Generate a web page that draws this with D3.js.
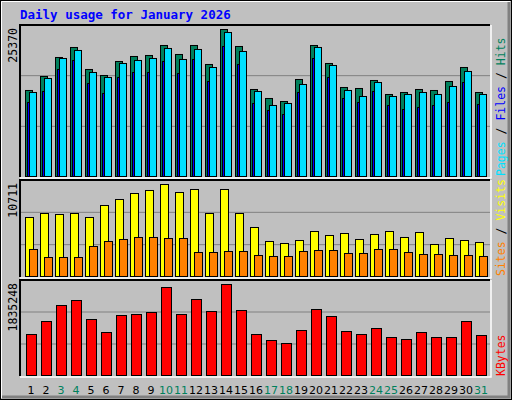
<!DOCTYPE html>
<html><head><meta charset="utf-8">
<script src="https://cdn.jsdelivr.net/npm/d3@7"></script>
<style>body{margin:0;background:#fff}svg{display:block}</style>
</head><body><svg id="c" width="512" height="400"></svg>
<script>
const days = d3.range(1,32).map(String);
const weekends = ["3","4","10","11","17","18","24","25","31"];
const hits = [14844,17260,20539,22265,18468,17433,19849,20712,20885,22611,21057,22611,19331,25370,22438,15016,13463,12945,16742,22611,19504,15361,15189,16570,14153,14498,15016,14844,16397,18813,14498];
const pages = [14498,16915,20367,21748,17950,17087,19504,20022,20367,22093,20194,21920,18813,24854,21575,14671,12255,12600,15879,22265,19159,14844,13808,16224,13808,14153,14498,14153,15534,18123,14153];
const files = [12772,14671,18468,20022,16052,14326,17087,17950,17950,19849,17778,20194,16397,22438,19331,12600,11392,10701,14498,20367,17087,13463,12772,14671,12255,11564,11909,12255,12772,16224,12427];
const visits = [6869,7335,7218,7335,6869,8266,8965,9663,10013,10711,9780,10129,7335,10129,7335,5705,4075,3842,4191,5239,4773,5006,4308,4890,5239,4541,5123,3726,4424,4191,3959];
const sites = [3144,2212,2212,2212,3493,4075,4308,4541,4541,4424,4424,2794,2794,2911,2911,2445,2329,2329,2911,3027,3027,2678,2678,3144,3144,2794,2561,2561,2445,2445,2329];
const kbytes = [826868,1089045,1411725,1512563,1129380,867203,1210050,1230218,1270553,1774740,1230218,1532730,1290720,1835248,1310888,826868,705863,645360,907538,1331055,1189883,887370,826868,947873,766365,726030,867203,766365,766365,1089045,806700];
const title = "Daily usage for January 2026";

const svg = d3.select("#c");
const mono = "DejaVu Sans Mono, monospace";
// background and bevel
svg.append("rect").attr("x",0.5).attr("y",0.5).attr("width",511).attr("height",399).attr("fill","#c0c0c0").attr("stroke","#000");
svg.append("path").attr("d","M1.5,398V1.5H510").attr("stroke","#fff").attr("fill","none");
svg.append("path").attr("d","M2,397H509V2").attr("stroke","#808080").attr("stroke-width",3).attr("fill","none");
svg.append("text").attr("x",20).attr("y",19).text(title).attr("font-family",mono).attr("font-weight","bold").attr("font-size",12.5).attr("fill","#0000ff");

const x = d3.scaleBand().domain(days).range([20,485]).paddingInner(0).paddingOuter(0);
const L=20, R=490;
function panel(top, bottom, max){
  svg.append("rect").attr("x",L).attr("y",top).attr("width",R-L).attr("height",bottom-top).attr("fill","#c0c0c0");
  const y = d3.scaleLinear().domain([0,max]).range([bottom-1, top+4]);
  const h = bottom-top;
  [1,2].forEach(k=>svg.append("line").attr("x1",L).attr("x2",R).attr("y1",top+h*k/3).attr("y2",top+h*k/3).attr("stroke","#808080"));
  svg.append("path").attr("d",`M${L},${bottom}V${top}H${R}`).attr("stroke","#000").attr("stroke-width",2).attr("fill","none");
  svg.append("path").attr("d",`M${L},${bottom+1}H${R+1}V${top}`).attr("stroke","#fff").attr("stroke-width",1.5).attr("fill","none");
  svg.append("text").attr("transform",`translate(${L-3},${top+3}) rotate(-90)`).attr("text-anchor","end")
    .text(d3.format("d")(max)).attr("font-family",mono).attr("font-size",11.5).attr("fill","#000");
  return y;
}
function bars(data, y, dx, w, color){
  svg.append("g").selectAll("rect").data(data).join("rect")
    .attr("x",(d,i)=>x(days[i])+dx+0.5).attr("width",w)
    .attr("y",d=>y(d)+0.5).attr("height",d=>y(0)-y(d))
    .attr("fill",color).attr("stroke","#000").attr("stroke-width",1);
}
const y1 = panel(25,177,25370);
bars(hits,y1,5,7,"#00805c");
bars(files,y1,7,7,"#0000ff");
bars(pages,y1,9,7,"#00e0ff");
const y2 = panel(180,277,10711);
bars(visits,y2,5,8,"#ffff00");
bars(sites,y2,9,8,"#ff8000");
const y3 = panel(280,376,1835248);
bars(kbytes,y3,6,10,"#ff0000");

function legend(parts, yBottom){
  const t = svg.append("text").attr("transform",`translate(505,${yBottom}) rotate(-90)`)
    .attr("font-family",mono).attr("font-size",11.5);
  parts.forEach(p=>t.append("tspan").text(p[0]).attr("fill",p[1]));
}
legend([["Pages","#00e0ff"],[" / ","#000"],["Files","#0000ff"],[" / ","#000"],["Hits","#00805c"]],176);
legend([["Sites","#ff8000"],[" / ","#000"],["Visits","#ffff00"]],276);
legend([["KBytes","#ff0000"]],376);

svg.append("g").selectAll("text").data(days).join("text")
  .attr("x",d=>x(d)+x.bandwidth()/2+3.5).attr("y",394).attr("text-anchor","middle")
  .text(d=>d).attr("font-family","DejaVu Sans, sans-serif").attr("font-size",11)
  .attr("fill",d=>weekends.includes(d)?"#00805c":"#000");
</script></body></html>
